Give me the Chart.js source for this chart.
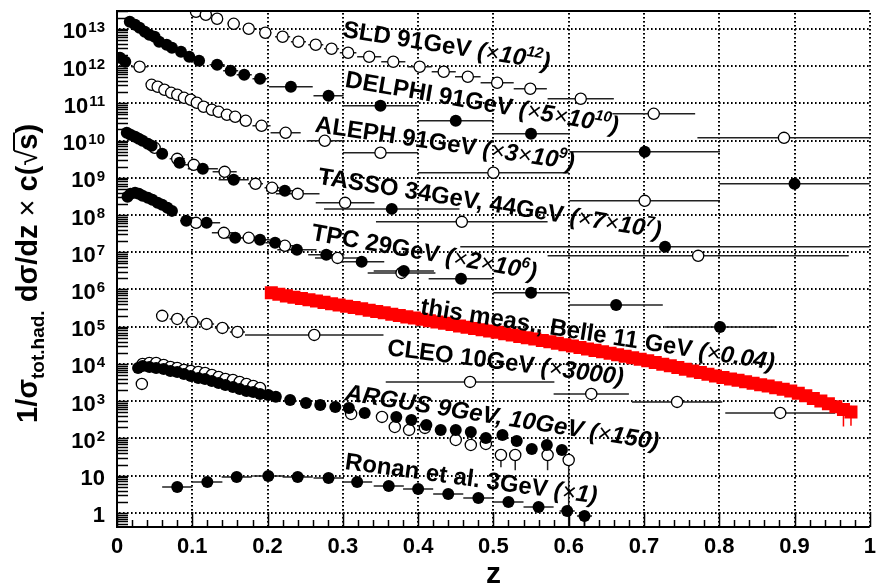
<!DOCTYPE html>
<html>
<head>
<meta charset="utf-8">
<script src="https://cdn.jsdelivr.net/npm/chart.js@4.4.1/dist/chart.umd.min.js"></script>
<style>
  html, body { margin: 0; padding: 0; background: #fff; }
  #myChart { display: block; }
</style>
</head>
<body>
<canvas id="myChart" width="879" height="587"></canvas>
<script>
const FONT = '"Liberation Sans", Arial, Helvetica, sans-serif';

// axis ticks
const xTickLabels = ['0', '0.1', '0.2', '0.3', '0.4', '0.5', '0.6', '0.7', '0.8', '0.9', '1'];
const yTickPowers = [0, 1, 2, 3, 4, 5, 6, 7, 8, 9, 10, 11, 12, 13];
const yMin = 0.42;
const yMax = 3.0e13;

// this measurement, Belle 11 GeV (x0.04)
const belleZ = [0.205, 0.215, 0.225, 0.235, 0.245, 0.255, 0.265, 0.275, 0.285, 0.295,
  0.305, 0.315, 0.325, 0.335, 0.345, 0.355, 0.365, 0.375, 0.385, 0.395,
  0.405, 0.415, 0.425, 0.435, 0.445, 0.455, 0.465, 0.475, 0.485, 0.495,
  0.505, 0.515, 0.525, 0.535, 0.545, 0.555, 0.565, 0.575, 0.585, 0.595,
  0.605, 0.615, 0.625, 0.635, 0.645, 0.655, 0.665, 0.675, 0.685, 0.695,
  0.705, 0.715, 0.725, 0.735, 0.745, 0.755, 0.765, 0.775, 0.785, 0.795,
  0.805, 0.815, 0.825, 0.835, 0.845, 0.855, 0.865, 0.875, 0.885, 0.895,
  0.905, 0.915, 0.925, 0.935, 0.945, 0.955, 0.965, 0.975];
const belleV = [8.22e5, 7.44e5, 6.74e5, 6.18e5, 5.70e5, 5.29e5, 4.89e5, 4.51e5, 4.16e5, 3.86e5,
  3.56e5, 3.29e5, 3.02e5, 2.77e5, 2.55e5, 2.36e5, 2.17e5, 1.99e5, 1.84e5, 1.71e5,
  1.58e5, 1.45e5, 1.34e5, 1.24e5, 1.14e5, 1.05e5, 9.72e4, 8.98e4, 8.28e4, 7.69e4,
  7.10e4, 6.51e4, 5.97e4, 5.51e4, 5.05e4, 4.66e4, 4.27e4, 3.94e4, 3.59e4, 3.30e4,
  3.04e4, 2.79e4, 2.54e4, 2.32e4, 2.12e4, 1.94e4, 1.76e4, 1.62e4, 1.47e4, 1.34e4,
  1.22e4, 1.10e4, 9.86e3, 8.94e3, 8.04e3, 7.24e3, 6.52e3, 5.87e3, 5.28e3, 4.78e3,
  4.36e3, 3.97e3, 3.64e3, 3.34e3, 3.05e3, 2.79e3, 2.55e3, 2.31e3, 2.09e3, 1.88e3,
  1.64e3, 1.40e3, 1.18e3, 1.01e3, 852, 712, 599, 516];
const belleErrZ = [0.965, 0.975];
const belleErrLo = [210, 220];
const belleErrHi = [800, 760];

// SLD 91 GeV (x1e12)
const sldZ = [0.030, 0.105, 0.118, 0.133, 0.155, 0.175, 0.197, 0.220, 0.241, 0.264, 0.285,
  0.307, 0.335, 0.367, 0.402, 0.434, 0.466, 0.505, 0.549, 0.616, 0.713, 0.886];
const sldV = [9.55e11, 2.86e13, 2.38e13, 1.86e13, 1.36e13, 1.00e13, 7.81e12, 6.10e12, 4.48e12, 3.72e12, 2.90e12,
  2.27e12, 1.77e12, 1.30e12, 9.55e11, 7.00e11, 5.14e11, 3.55e11, 2.45e11, 1.32e11, 5.21e10, 1.18e10];
const sldDz = [0.011, 0.005, 0.005, 0.006, 0.008, 0.008, 0.008, 0.01, 0.01, 0.01, 0.01,
  0.011, 0.016, 0.016, 0.016, 0.016, 0.017, 0.022, 0.022, 0.044, 0.055, 0.115];

// DELPHI 91 GeV (x5e10)
const delphiZ = [0.004, 0.011, 0.017, 0.024, 0.030, 0.037, 0.043, 0.050, 0.056, 0.066, 0.073, 0.085, 0.096,
  0.109, 0.133, 0.151, 0.169, 0.190, 0.231, 0.281, 0.350, 0.450, 0.550, 0.701, 0.900];
const delphiV = [1.66e12, 1.30e12, 1.54e13, 1.28e13, 1.06e13, 8.32e12, 6.90e12, 6.10e12, 4.48e12, 3.72e12, 3.09e12, 2.41e12, 1.77e12,
  1.38e12, 1.08e12, 7.45e11, 5.82e11, 4.54e11, 2.77e11, 1.59e11, 8.55e10, 3.38e10, 1.51e10, 4.97e9, 6.87e8];
const delphiDz = [0.003, 0.003, 0.003, 0.003, 0.003, 0.003, 0.003, 0.003, 0.003, 0.004, 0.004, 0.005, 0.005,
  0.006, 0.01, 0.01, 0.01, 0.01, 0.029, 0.02, 0.05, 0.05, 0.05, 0.1, 0.1];

// ALEPH 91 GeV (x3e9)
const alephZ = [0.046, 0.054, 0.063, 0.072, 0.080, 0.089, 0.098, 0.106, 0.115, 0.126, 0.135, 0.146, 0.157,
  0.171, 0.192, 0.224, 0.276, 0.350, 0.500, 0.701];
const alephV = [3.13e11, 2.77e11, 2.30e11, 1.91e11, 1.69e11, 1.40e11, 1.24e11, 1.03e11, 8.04e10, 6.68e10, 5.90e10, 4.90e10, 4.33e10,
  3.38e10, 2.48e10, 1.61e10, 9.82e9, 4.68e9, 1.36e9, 2.40e8];
const alephDz = [0.004, 0.004, 0.004, 0.004, 0.004, 0.004, 0.004, 0.004, 0.004, 0.004, 0.004, 0.004, 0.005,
  0.007, 0.012, 0.02, 0.024, 0.05, 0.1, 0.1];

// TASSO 34 GeV (filled) and 44 GeV (open) (x7e7)
const tasso34Z = [0.013, 0.018, 0.024, 0.029, 0.034, 0.041, 0.046, 0.060, 0.083, 0.114, 0.155, 0.223, 0.365, 0.728];
const tasso34V = [1.61e10, 1.42e10, 1.26e10, 1.11e10, 9.82e9, 8.15e9, 7.21e9, 4.40e9, 2.52e9, 1.74e9, 8.80e8, 4.46e8, 1.46e8, 1.40e7];
const tasso34Dz = [0.003, 0.003, 0.003, 0.003, 0.003, 0.003, 0.003, 0.005, 0.008, 0.02, 0.02, 0.025, 0.09, 0.272];
const tasso44Z = [0.050, 0.080, 0.102, 0.143, 0.184, 0.206, 0.240, 0.303, 0.458, 0.772];
const tasso44V = [6.37e9, 3.22e9, 2.22e9, 1.44e9, 6.87e8, 5.37e8, 3.70e8, 2.12e8, 6.55e7, 8.00e6];
const tasso44Dz = [0.005, 0.01, 0.013, 0.016, 0.01, 0.01, 0.029, 0.039, 0.114, 0.2];

// TPC 29 GeV (x2e6)
const tpcZ = [0.014, 0.018, 0.024, 0.029, 0.034, 0.041, 0.047, 0.054, 0.060, 0.067, 0.073, 0.092,
  0.119, 0.157, 0.190, 0.210, 0.239, 0.278, 0.325, 0.381, 0.457, 0.550, 0.663, 0.801];
const tpcV = [3.07e8, 3.70e8, 3.94e8, 3.70e8, 3.27e8, 2.89e8, 2.55e8, 2.12e8, 1.88e8, 1.56e8, 1.29e8, 6.97e7,
  6.15e7, 2.44e7, 2.15e7, 1.79e7, 1.16e7, 8.51e6, 5.52e6, 3.16e6, 1.93e6, 8.12e5, 3.86e5, 9.91e4];
const tpcDz = [0.003, 0.003, 0.003, 0.003, 0.003, 0.003, 0.003, 0.003, 0.003, 0.003, 0.003, 0.008,
  0.018, 0.013, 0.013, 0.013, 0.026, 0.024, 0.03, 0.04, 0.043, 0.05, 0.062, 0.073];
const tpcOpenZ = [0.105, 0.142, 0.175, 0.223, 0.293, 0.378];
const tpcOpenV = [6.15e7, 3.32e7, 2.44e7, 1.49e7, 7.06e6, 2.79e6];
const tpcOpenDz = [0.01, 0.016, 0.013, 0.016, 0.03, 0.045];

// CLEO 10 GeV (x3000)
const cleoZ = [0.060, 0.080, 0.100, 0.119, 0.140, 0.160, 0.262, 0.469, 0.630, 0.744, 0.881];
const cleoV = [1.96e5, 1.62e5, 1.35e5, 1.19e5, 9.32e4, 7.27e4, 6.04e4, 3.30e3, 1.57e3, 958, 485];
const cleoDz = [0.008, 0.01, 0.01, 0.01, 0.01, 0.01, 0.092, 0.112, 0.05, 0.06, 0.073];

// ARGUS 9 GeV (filled) and 10 GeV (open) (x150)
const argus9Z = [0.028, 0.034, 0.043, 0.052, 0.062, 0.071, 0.080, 0.089, 0.098, 0.108, 0.117, 0.126, 0.135,
  0.144, 0.154, 0.163, 0.172, 0.181, 0.190, 0.201, 0.211, 0.230, 0.251, 0.270, 0.290, 0.308, 0.329,
  0.371, 0.391, 0.411, 0.430, 0.450, 0.470, 0.490, 0.512, 0.531, 0.551, 0.571, 0.591];
const argus9V = [7.85e3, 8.88e3, 8.35e3, 7.85e3, 7.38e3, 6.52e3, 6.13e3, 5.42e3, 4.79e3, 4.23e3, 3.97e3, 3.51e3, 3.10e3,
  2.74e3, 2.42e3, 2.14e3, 1.89e3, 1.78e3, 1.57e3, 1.48e3, 1.31e3, 1.08e3, 901, 796, 703, 661, 485,
  379, 315, 231, 170, 170, 150, 103, 124, 85.9, 52.4, 67.0, 49.2];
const argus10Z = [0.033, 0.034, 0.043, 0.052, 0.062, 0.071, 0.080, 0.089, 0.098, 0.108, 0.117, 0.126, 0.135,
  0.144, 0.154, 0.163, 0.172, 0.181, 0.190, 0.311, 0.352, 0.369, 0.388, 0.409, 0.450, 0.470, 0.490,
  0.510, 0.529, 0.572, 0.600];
const argus10V = [2.92e3, 1.00e4, 1.07e4, 1.07e4, 9.44e3, 8.35e3, 7.85e3, 6.93e3, 6.52e3, 6.13e3, 5.76e3, 5.09e3, 4.50e3,
  3.97e3, 3.73e3, 3.30e3, 2.92e3, 2.58e3, 2.28e3, 456, 379, 204, 170, 192, 91.4, 67.0, 71.3,
  36.1, 36.1, 36.1, 26.5];
const argus10ErrZ = [0.510, 0.529, 0.572, 0.600];
const argus10ErrLo = [17, 14, 14, 0.3];
const argus10ErrHi = [47, 47, 47, 34];

// Ronan et al. 3 GeV (x1)
const ronanZ = [0.080, 0.120, 0.159, 0.201, 0.240, 0.281, 0.319, 0.361, 0.400, 0.440, 0.480, 0.520, 0.560, 0.598, 0.621];
const ronanV = [4.99, 6.80, 9.27, 9.86, 9.27, 8.71, 6.80, 5.31, 4.41, 3.24, 2.53, 1.97, 1.45, 1.13, 0.83];
const ronanDz = [0.02, 0.02, 0.02, 0.02, 0.02, 0.02, 0.02, 0.02, 0.02, 0.02, 0.02, 0.02, 0.02, 0.01, 0.01];
const ronanErrZ = [0.621];
const ronanErrLo = [0.3];
const ronanErrHi = [1.0];

// ---- styles ----
const openDot = { pointStyle: 'circle', pointRadius: 5.6, backgroundColor: '#fff', borderColor: '#000', borderWidth: 1.3 };
const fullDot = { pointStyle: 'circle', pointRadius: 6, backgroundColor: '#000', borderColor: '#000', borderWidth: 0 };
const redBox = { pointStyle: 'rect', pointRadius: 9.2, backgroundColor: '#ff0000', borderColor: '#ff0000', borderWidth: 0 };

function series(zs, vs, dz, style, extra) {
  return Object.assign({
    data: zs.map((z, i) => ({ x: z, y: vs[i] })),
    xErr: dz,
    showLine: false,
    pointHoverRadius: style.pointRadius
  }, style, extra || {});
}

const datasets = [
  series(belleZ, belleV, null, redBox, { barColor: '#ff0000', vErr: { z: belleErrZ, lo: belleErrLo, hi: belleErrHi } }),
  series(ronanZ, ronanV, ronanDz, fullDot, { vErr: { z: ronanErrZ, lo: ronanErrLo, hi: ronanErrHi } }),
  series(argus9Z, argus9V, null, fullDot),
  series(argus10Z, argus10V, null, openDot, { vErr: { z: argus10ErrZ, lo: argus10ErrLo, hi: argus10ErrHi } }),
  series(cleoZ, cleoV, cleoDz, openDot),
  series(tpcZ, tpcV, tpcDz, fullDot),
  series(tpcOpenZ, tpcOpenV, tpcOpenDz, openDot),
  series(tasso34Z, tasso34V, tasso34Dz, fullDot),
  series(tasso44Z, tasso44V, tasso44Dz, openDot),
  series(alephZ, alephV, alephDz, openDot),
  series(delphiZ, delphiV, delphiDz, fullDot),
  series(sldZ, sldV, sldDz, openDot)
];

// curve labels, anchored at the left end of their baseline (z, value)
const seriesLabels = [
  { z: 0.299, v: 6.1e12, deg: 9, parts: [['SLD 91GeV ', 'B'], ['(', 'I'], ['\u00d7', 'X'], ['10', 'I'], ['12', 'S'], [')', 'I']] },
  { z: 0.302, v: 2.77e11, deg: 9.7, parts: [['DELPHI 91GeV ', 'B'], ['(', 'I'], ['\u00d7', 'X'], ['5', 'I'], ['\u00d7', 'X'], ['10', 'I'], ['10', 'S'], [')', 'I']] },
  { z: 0.262, v: 1.71e10, deg: 8.3, parts: [['ALEPH 91GeV ', 'B'], ['(', 'I'], ['\u00d7', 'X'], ['3', 'I'], ['\u00d7', 'X'], ['10', 'I'], ['9', 'S'], [')', 'I']] },
  { z: 0.266, v: 6.87e8, deg: 9, parts: [['TASSO 34GeV, 44GeV ', 'B'], ['(', 'I'], ['\u00d7', 'X'], ['7', 'I'], ['\u00d7', 'X'], ['10', 'I'], ['7', 'S'], [')', 'I']] },
  { z: 0.257, v: 2.15e7, deg: 10, parts: [['TPC 29GeV ', 'B'], ['(', 'I'], ['\u00d7', 'X'], ['2', 'I'], ['\u00d7', 'X'], ['10', 'I'], ['6', 'S'], [')', 'I']] },
  { z: 0.402, v: 2.21e5, deg: 9, parts: [['this meas., Belle 11 GeV ', 'B'], ['(', 'I'], ['\u00d7', 'X'], ['0.04', 'I'], [')', 'I']] },
  { z: 0.358, v: 1.75e4, deg: 7.2, parts: [['CLEO 10GeV ', 'B'], ['(', 'I'], ['\u00d7', 'X'], ['3000', 'I'], [')', 'I']] },
  { z: 0.302, v: 1.08e3, deg: 9, parts: [['ARGUS 9GeV, 10GeV ', 'I'], ['(', 'I'], ['\u00d7', 'X'], ['150', 'I'], [')', 'I']] },
  { z: 0.302, v: 15.2, deg: 7.8, parts: [['Ronan et al. 3GeV ', 'B'], ['(', 'I'], ['\u00d7', 'X'], ['1', 'I'], [')', 'I']] }
];

const textStyles = {
  B: { font: 'bold 24px ' + FONT, dy: 0 },
  I: { font: 'italic bold 24px ' + FONT, dy: 0 },
  X: { font: 'italic 24px ' + FONT, dy: 0 },
  S: { font: 'italic bold 15px ' + FONT, dy: -10 }
};

function drawRich(ctx, parts, x, y, deg) {
  ctx.save();
  ctx.translate(x, y);
  ctx.rotate(deg * Math.PI / 180);
  ctx.textAlign = 'left';
  ctx.textBaseline = 'alphabetic';
  ctx.fillStyle = '#000';
  let cx = 0;
  parts.forEach(([t, st]) => {
    const s = textStyles[st];
    ctx.font = s.font;
    ctx.fillText(t, cx, s.dy);
    cx += ctx.measureText(t).width;
  });
  ctx.restore();
}

// dotted grid, then bin-width and vertical error bars, all under the markers
const errorBars = {
  id: 'errorBars',
  beforeDatasetsDraw(chart) {
    const { ctx, chartArea: a, scales: { x, y } } = chart;
    ctx.save();

    // dotted grid made of small squares
    ctx.fillStyle = '#000';
    for (let i = 1; i <= 10; i++) {
      const px = Math.round(x.getPixelForValue(i / 10)) - 1;
      for (let py = a.bottom - 2; py > a.top; py -= 4) ctx.fillRect(px, py, 2, 1.6);
    }
    yTickPowers.forEach(k => {
      const py = Math.round(y.getPixelForValue(Math.pow(10, k))) - 1;
      for (let px = a.left + 2; px < a.right; px += 4) ctx.fillRect(px, py, 1.6, 2);
    });

    ctx.beginPath();
    ctx.rect(a.left, a.top, a.right - a.left, a.bottom - a.top);
    ctx.clip();
    chart.data.datasets.forEach(ds => {
      ctx.strokeStyle = ds.barColor || '#222';
      ctx.lineWidth = 1.5;
      if (ds.xErr) {
        ds.data.forEach((p, j) => {
          const py = y.getPixelForValue(p.y);
          ctx.beginPath();
          ctx.moveTo(x.getPixelForValue(p.x - ds.xErr[j]), py);
          ctx.lineTo(x.getPixelForValue(p.x + ds.xErr[j]), py);
          ctx.stroke();
        });
      }
      if (ds.vErr) {
        ds.vErr.z.forEach((z, j) => {
          const px = x.getPixelForValue(z);
          ctx.beginPath();
          ctx.moveTo(px, y.getPixelForValue(ds.vErr.lo[j]));
          ctx.lineTo(px, y.getPixelForValue(ds.vErr.hi[j]));
          ctx.stroke();
        });
      }
    });
    ctx.restore();
  }
};

// frame, inward ticks, y labels with exponents, axis titles and curve labels
const decorations = {
  id: 'decorations',
  afterDraw(chart) {
    const { ctx, chartArea: a, scales: { x, y } } = chart;
    ctx.save();
    ctx.strokeStyle = '#000';
    ctx.fillStyle = '#000';

    // y ticks (log, all decades)
    ctx.lineWidth = 1.5;
    for (let d = -1; d <= 13; d++) {
      for (let m = 1; m <= 9; m++) {
        const v = m * Math.pow(10, d);
        if (v < yMin || v > yMax) continue;
        const py = Math.round(y.getPixelForValue(v)) + 0.5;
        ctx.beginPath();
        ctx.moveTo(a.left, py);
        ctx.lineTo(a.left + 11, py);
        ctx.stroke();
      }
    }
    // x ticks
    for (let i = 0; i <= 50; i++) {
      const px = Math.round(x.getPixelForValue(i * 0.02)) + 0.5;
      const len = i % 5 === 0 ? 15 : 7;
      ctx.beginPath();
      ctx.moveTo(px, a.bottom);
      ctx.lineTo(px, a.bottom - len);
      ctx.stroke();
    }

    // frame
    ctx.lineWidth = 2;
    ctx.beginPath();
    ctx.moveTo(a.right, a.top);
    ctx.lineTo(a.left, a.top);
    ctx.lineTo(a.left, a.bottom);
    ctx.lineTo(a.right, a.bottom);
    ctx.stroke();

    // y tick labels
    const base = 'bold 22px ' + FONT;
    const sup = 'bold 15px ' + FONT;
    ctx.textAlign = 'left';
    ctx.textBaseline = 'alphabetic';
    yTickPowers.forEach(k => {
      const py = y.getPixelForValue(Math.pow(10, k));
      const b = k === 0 ? '1' : '10';
      const s = k >= 2 ? String(k) : '';
      ctx.font = sup;
      const ws = s ? ctx.measureText(s).width + 1 : 0;
      ctx.font = base;
      const wb = ctx.measureText(b).width;
      const right = 105;
      ctx.fillText(b, right - ws - wb, py + 9.5);
      if (s) {
        ctx.font = sup;
        ctx.fillText(s, right - ws + 1, py + 3);
      }
    });

    // x title
    ctx.font = 'bold 30px ' + FONT;
    ctx.textAlign = 'center';
    ctx.fillText('z', x.getPixelForValue(0.5), 583);

    // y title
    ctx.save();
    ctx.translate(37, 423);
    ctx.rotate(-Math.PI / 2);
    ctx.textAlign = 'left';
    let cx = 0;
    const put = (t, f, dy) => { ctx.font = f; ctx.fillText(t, cx, dy); cx += ctx.measureText(t).width; };
    const big = 'bold 29px ' + FONT;
    put('1/\u03c3', big, 0);
    put('tot.had.', 'bold 19px ' + FONT, 7);
    put(' d\u03c3/dz ', big, 0);
    put('\u00d7', '29px ' + FONT, 0);
    put(' c(', big, 0);
    put('\u221a', '29px ' + FONT, 0);
    const s0 = cx;
    put('s', big, 0);
    const s1 = cx;
    ctx.lineWidth = 2;
    ctx.beginPath();
    ctx.moveTo(s0 - 1, -23);
    ctx.lineTo(s1 + 1, -23);
    ctx.stroke();
    put(')', big, 0);
    ctx.restore();

    // curve labels
    seriesLabels.forEach(l => {
      drawRich(ctx, l.parts, x.getPixelForValue(l.z), y.getPixelForValue(l.v), l.deg);
    });
    ctx.restore();
  }
};

const ctx = document.getElementById('myChart');

new Chart(ctx, {
  type: 'scatter',
  data: { datasets: datasets },
  options: {
    responsive: false,
    animation: false,
    devicePixelRatio: 1,
    layout: { padding: { top: 11, right: 0, left: 0, bottom: 0 } },
    plugins: { legend: { display: false }, tooltip: { enabled: false } },
    scales: {
      x: {
        type: 'linear',
        min: 0,
        max: 1,
        ticks: {
          stepSize: 0.1,
          autoSkip: false,
          maxRotation: 0,
          padding: 7,
          color: '#000',
          font: { family: FONT, size: 22, weight: 'bold' },
          callback: (v, i) => xTickLabels[i]
        },
        grid: { display: false, drawTicks: false },
        border: { display: false },
        afterFit: s => { s.height = 60; s.paddingLeft = 0; s.paddingRight = 0; }
      },
      y: {
        type: 'logarithmic',
        min: yMin,
        max: yMax,
        ticks: { display: false },
        grid: { display: false, drawTicks: false },
        border: { display: false },
        afterBuildTicks: s => { s.ticks = yTickPowers.map(k => ({ value: Math.pow(10, k) })); },
        afterFit: s => { s.width = 117; s.paddingTop = 0; s.paddingBottom = 0; }
      }
    }
  },
  plugins: [errorBars, decorations]
});
</script>
</body>
</html>
